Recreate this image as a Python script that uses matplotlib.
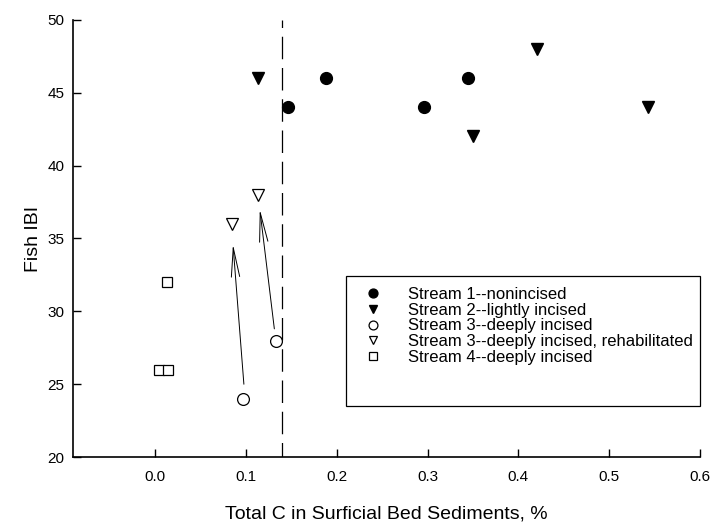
import matplotlib.pyplot as plt
from matplotlib.patches import Rectangle

plt.rcParams['font.family'] = ['Liberation Sans', 'DejaVu Sans']

# Stream 1--nonincised
s1_x = [0.146, 0.188, 0.296, 0.345]
s1_y = [44, 46, 44, 46]
# Stream 2--lightly incised
s2_x = [0.113, 0.350, 0.420, 0.543]
s2_y = [46, 42, 48, 44]
# Stream 3--deeply incised
s3_x = [0.097, 0.133]
s3_y = [24, 28]
# Stream 3--deeply incised, rehabilitated
s3r_x = [0.085, 0.114]
s3r_y = [36, 38]
# Stream 4--deeply incised
s4_x = [0.013, 0.005, 0.014]
s4_y = [32, 26, 26]

# arrows: (tail x, tail y, head x, head y)
arrows = [
    (0.098, 25.0, 0.086, 34.6),
    (0.1315, 28.8, 0.1155, 37.0),
]
threshold = 0.14

labels = [
    'Stream 1--nonincised',
    'Stream 2--lightly incised',
    'Stream 3--deeply incised',
    'Stream 3--deeply incised, rehabilitated',
    'Stream 4--deeply incised',
]

fig = plt.figure(figsize=(7.12, 5.23), dpi=100)
ax = fig.add_axes([0.1025, 0.126, 0.881, 0.836])

ms = 8.5
h1, = ax.plot(s1_x, s1_y, 'o', color='black', ms=ms, label=labels[0])
h2, = ax.plot(s2_x, s2_y, 'v', color='black', ms=ms, label=labels[1])
h3, = ax.plot(s3_x, s3_y, 'o', mfc='white', mec='black', mew=0.9, ms=ms, label=labels[2])
h4, = ax.plot(s3r_x, s3r_y, 'v', mfc='white', mec='black', mew=0.9, ms=ms, label=labels[3])
h5, = ax.plot(s4_x, s4_y, 's', mfc='white', mec='black', mew=0.9, ms=7, label=labels[4])

for x0, y0, x1, y1 in arrows:
    ax.annotate('', xy=(x1, y1), xytext=(x0, y0),
                arrowprops=dict(arrowstyle='->,head_length=2.1,head_width=0.3',
                                color='black', lw=0.7, shrinkA=0, shrinkB=0))

# dashed threshold line, drawn top-down so the dash pattern starts at the top
ax.plot([threshold, threshold], [50, 20], color='black', lw=0.9,
        linestyle=(12, (18, 7)), zorder=0)

ax.set_xlim(-0.09, 0.6)
ax.set_ylim(20, 50)
ax.set_xticks([0.0, 0.1, 0.2, 0.3, 0.4, 0.5, 0.6])
ax.set_xticklabels(['0.0', '0.1', '0.2', '0.3', '0.4', '0.5', '0.6'])
ax.set_yticks([20, 25, 30, 35, 40, 45, 50])
ax.tick_params(direction='in', length=6, width=1, labelsize=11)
ax.tick_params(axis='x', pad=9)
ax.tick_params(axis='y', pad=6)
ax.spines['top'].set_visible(False)
ax.spines['right'].set_visible(False)
ax.spines['left'].set_linewidth(1.2)
ax.spines['bottom'].set_linewidth(1.2)

ax.set_xlabel('Total C in Surficial Bed Sediments, %', fontsize=14, labelpad=16)
ax.set_ylabel('Fish IBI', fontsize=14, labelpad=4)

# legend box
ax.add_patch(Rectangle((0.435, 0.117), 0.565, 0.297, transform=ax.transAxes,
                       fill=False, edgecolor='black', lw=0.9, clip_on=False))
ax.legend(handles=[h1, h2, h3, h4, h5], loc='upper left',
          bbox_to_anchor=(0.455, 0.405), frameon=False, fontsize=12,
          markerscale=0.75, labelspacing=0.05, handlelength=1.0,
          handletextpad=1.6, borderaxespad=0)

fig.savefig('out.png', dpi=100)
